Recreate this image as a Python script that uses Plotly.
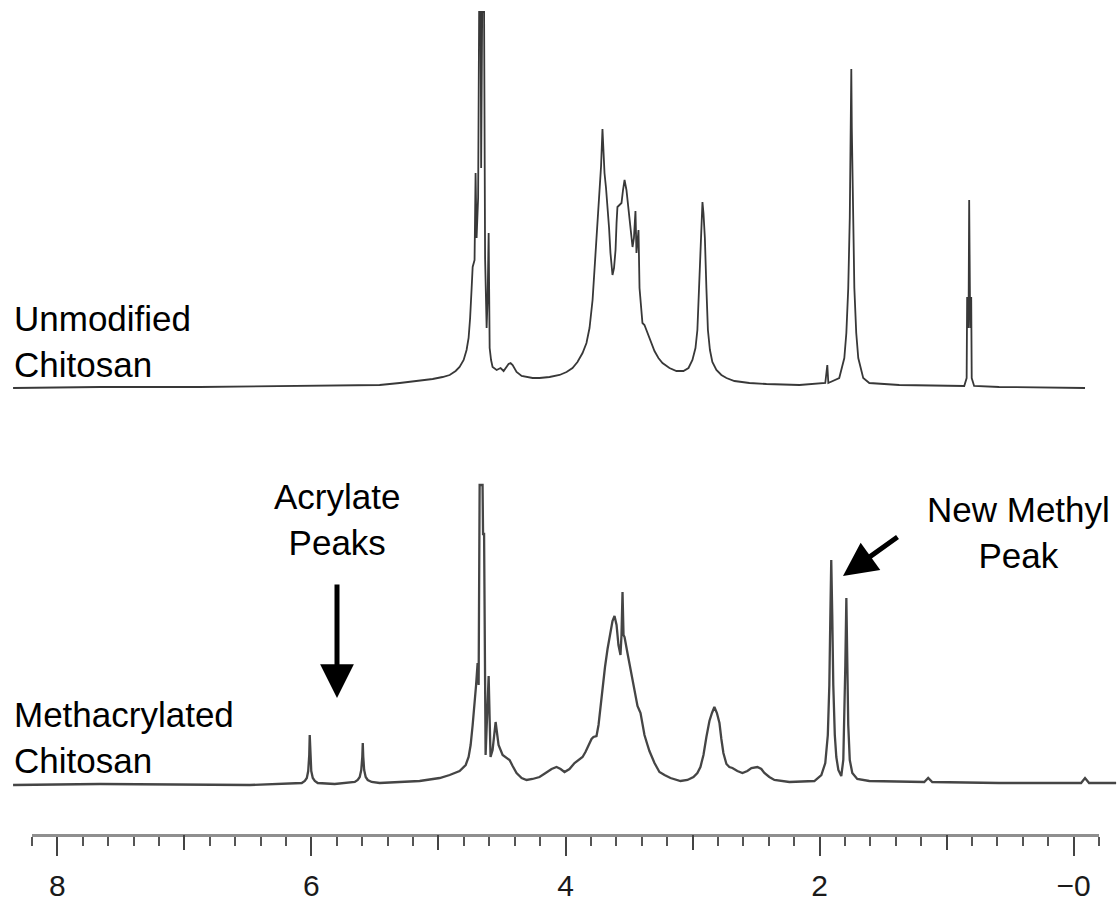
import plotly.graph_objects as go

# ---------------- data (chemical shift in ppm, intensity in arbitrary units) ----------------
unmod_ppm = [8.354, 7.669, 6.882, 6.094, 5.701, 5.465, 5.307, 5.150, 5.047, 4.969, 4.913, 4.866,
             4.835, 4.803, 4.780, 4.764, 4.752, 4.740, 4.732, 4.717, 4.709, 4.701, 4.689, 4.681,
             4.669, 4.665, 4.657, 4.642, 4.634, 4.622, 4.614, 4.606, 4.598, 4.587, 4.575, 4.543,
             4.512, 4.488, 4.465, 4.449, 4.433, 4.417, 4.386, 4.346, 4.260, 4.205, 4.126, 4.047,
             3.992, 3.945, 3.906, 3.866, 3.835, 3.811, 3.787, 3.768, 3.748, 3.732, 3.720, 3.709,
             3.701, 3.693, 3.681, 3.669, 3.657, 3.646, 3.630, 3.618, 3.606, 3.598, 3.591, 3.575,
             3.559, 3.547, 3.535, 3.520, 3.504, 3.488, 3.472, 3.461, 3.449, 3.441, 3.433, 3.425,
             3.417, 3.406, 3.394, 3.378, 3.354, 3.331, 3.299, 3.268, 3.236, 3.181, 3.126, 3.071,
             3.031, 3.000, 2.976, 2.961, 2.949, 2.937, 2.929, 2.921, 2.913, 2.902, 2.890, 2.878,
             2.862, 2.843, 2.811, 2.772, 2.732, 2.669, 2.551, 2.417, 2.157, 1.953, 1.937, 1.929,
             1.843, 1.803, 1.787, 1.772, 1.760, 1.752, 1.748, 1.744, 1.736, 1.724, 1.709, 1.693,
             1.654, 1.606, 1.370, 0.858, 0.839, 0.835, 0.827, 0.823, 0.819, 0.815, 0.811, 0.803,
             0.799, 0.780, 0.583, -0.094]
unmod_int = [0, 1, 1, 2, 2, 3, 5, 7, 9, 11, 13, 17,
             21, 28, 38, 50, 70, 100, 121, 128, 215, 150, 190, 376,
             376, 220, 376, 376, 130, 60, 90, 155, 40, 28, 21, 18,
             20, 17, 21, 24, 25, 23, 16, 12, 10, 10, 11, 13,
             16, 20, 26, 35, 45, 60, 88, 125, 171, 200, 222, 259,
             230, 215, 200, 181, 160, 135, 113, 120, 138, 165, 181, 183,
             185, 198, 208, 198, 181, 160, 141, 150, 177, 135, 145, 158,
             100, 80, 65, 63, 55, 46, 37, 30, 25, 20, 17, 17,
             20, 28, 40, 58, 100, 150, 175, 186, 175, 150, 100, 58,
             38, 26, 18, 13, 10, 7, 5, 4, 3, 5, 23, 5,
             10, 30, 55, 100, 170, 260, 319, 260, 170, 100, 55, 30,
             10, 5, 3, 2, 10, 91, 60, 91, 188, 91, 60, 91,
             10, 2, 1, 0]

meth_ppm = [8.354, 7.669, 6.488, 6.173, 6.079, 6.055, 6.039, 6.028, 6.020, 6.016, 6.012, 6.004,
            5.992, 5.976, 5.953, 5.819, 5.661, 5.638, 5.622, 5.610, 5.602, 5.598, 5.594, 5.587,
            5.575, 5.559, 5.528, 5.465, 5.307, 5.150, 4.992, 4.913, 4.835, 4.787, 4.764, 4.748,
            4.732, 4.717, 4.705, 4.693, 4.685, 4.677, 4.654, 4.650, 4.642, 4.630, 4.606, 4.591,
            4.575, 4.551, 4.528, 4.496, 4.465, 4.441, 4.417, 4.386, 4.346, 4.307, 4.260, 4.205,
            4.157, 4.110, 4.071, 4.039, 4.008, 3.969, 3.929, 3.890, 3.866, 3.843, 3.819, 3.795,
            3.780, 3.756, 3.740, 3.724, 3.709, 3.689, 3.669, 3.650, 3.630, 3.614, 3.598, 3.583,
            3.567, 3.559, 3.551, 3.543, 3.535, 3.512, 3.488, 3.457, 3.433, 3.409, 3.394, 3.378,
            3.354, 3.339, 3.299, 3.260, 3.220, 3.173, 3.094, 3.039, 2.992, 2.961, 2.937, 2.913,
            2.890, 2.866, 2.846, 2.827, 2.807, 2.787, 2.772, 2.756, 2.732, 2.709, 2.685, 2.646,
            2.606, 2.567, 2.535, 2.488, 2.457, 2.433, 2.394, 2.354, 2.236, 2.039, 1.984, 1.953,
            1.933, 1.921, 1.913, 1.906, 1.898, 1.890, 1.878, 1.866, 1.850, 1.827, 1.811, 1.803,
            1.795, 1.787, 1.780, 1.772, 1.760, 1.740, 1.701, 1.606, 1.173, 1.142, 1.110, 0.583,
            -0.063, -0.094, -0.126, -0.339]
meth_int = [0, 1, 0, 1, 2, 4, 7, 14, 30, 50, 30, 14,
            7, 4, 2, 1, 3, 5, 8, 15, 28, 42, 28, 15,
            8, 5, 3, 2, 3, 4, 7, 10, 14, 20, 28, 40,
            60, 80, 100, 122, 100, 300, 300, 251, 251, 30, 109, 28,
            35, 63, 40, 30, 27, 25, 19, 12, 7, 5, 6, 8,
            12, 16, 18, 16, 13, 16, 22, 26, 28, 33, 40, 46,
            48, 49, 60, 79, 98, 118, 136, 152, 164, 169, 160, 140,
            130, 150, 193, 150, 148, 132, 115, 92, 79, 72, 62, 50,
            40, 34, 22, 13, 10, 7, 4, 5, 8, 12, 18, 30,
            48, 64, 72, 78, 72, 62, 46, 32, 21, 18, 17, 14,
            12, 14, 17, 18, 16, 12, 8, 5, 3, 4, 10, 22,
            50, 100, 170, 225, 170, 100, 50, 28, 15, 9, 25, 60,
            120, 187, 120, 60, 25, 12, 6, 4, 3, 7, 3, 2,
            2, 7, 2, 2]

axis_range = [8.2001, -0.2001]
major_dtick = 2
minor_dtick = 0.2

spectrum_labels = ["Unmodified<br>Chitosan", "Methacrylated<br>Chitosan"]
note_acrylate = "Acrylate<br>Peaks"
note_methyl = "New Methyl<br>Peak"

# ---------------- figure ----------------
W, H = 1117, 901
FONT = "Arial, Liberation Sans, Helvetica, sans-serif"

fig = go.Figure()
fig.add_trace(go.Scatter(x=unmod_ppm, y=unmod_int, mode="lines", xaxis="x", yaxis="y",
                         line=dict(color="#383838", width=1.8), hoverinfo="skip", showlegend=False))
fig.add_trace(go.Scatter(x=meth_ppm, y=meth_int, mode="lines", xaxis="x", yaxis="y2",
                         line=dict(color="#454545", width=2.3), hoverinfo="skip", showlegend=False))
# invisible helpers so the ruler axes are drawn
fig.add_trace(go.Scatter(x=axis_range, y=[0, 0], mode="lines", xaxis="x2", yaxis="y3",
                         line=dict(width=0), opacity=0, hoverinfo="skip", showlegend=False))
fig.add_trace(go.Scatter(x=axis_range, y=[0, 0], mode="lines", xaxis="x3", yaxis="y3",
                         line=dict(width=0), opacity=0, hoverinfo="skip", showlegend=False))

y_line = 1 - 834 / H

fig.update_layout(
    width=W, height=H,
    margin=dict(l=0, r=0, t=0, b=0, pad=0, autoexpand=False),
    paper_bgcolor="white", plot_bgcolor="white",
    font=dict(family=FONT, color="black"),
    xaxis=dict(domain=[0, 1], range=[8.457, -0.346], visible=False, anchor="y", automargin=False),
    yaxis=dict(domain=[0, 1], range=[-513, 388], visible=False, automargin=False),
    yaxis2=dict(domain=[0, 1], range=[-116, 785], visible=False, overlaying="y", automargin=False),
    yaxis3=dict(domain=[y_line, y_line + 0.01], range=[0, 1], visible=False, anchor="x2",
                automargin=False),
    xaxis2=dict(domain=[32 / W, 1099 / W], range=axis_range, anchor="y3", side="bottom",
                automargin=False,
                showline=True, linecolor="#8f8f8f", linewidth=3,
                ticks="outside", tickmode="linear", tick0=0, dtick=major_dtick,
                ticklen=19, tickwidth=2, tickcolor="#444444",
                labelalias={"0": "−0"},
                tickfont=dict(size=30, color="#1a1a1a", family=FONT),
                ticklabelstandoff=4,
                minor=dict(ticks="outside", tickmode="linear", tick0=0, dtick=minor_dtick,
                           ticklen=9, tickwidth=2, tickcolor="#555555", showgrid=False),
                showgrid=False, zeroline=False),
    xaxis3=dict(range=axis_range, overlaying="x2", anchor="y3", side="bottom", automargin=False,
                showline=False, ticks="outside", tickmode="linear", tick0=1, dtick=major_dtick,
                ticklen=15, tickwidth=2, tickcolor="#444444", showticklabels=False,
                showgrid=False, zeroline=False),
)

def px_x(x):
    return x / W

def px_y(y):
    return 1 - y / H

text_font = dict(family=FONT, size=35, color="black")
fig.add_annotation(text=spectrum_labels[0], x=px_x(12), y=px_y(342), xref="paper", yref="paper",
                   xanchor="left", yanchor="middle", align="left", showarrow=False, font=text_font)
fig.add_annotation(text=spectrum_labels[1], x=px_x(12), y=px_y(737), xref="paper", yref="paper",
                   xanchor="left", yanchor="middle", align="left", showarrow=False, font=text_font)
fig.add_annotation(text=note_acrylate, x=px_x(337), y=px_y(519), xref="paper", yref="paper",
                   xanchor="center", yanchor="middle", align="center", showarrow=False, font=text_font)
fig.add_annotation(text=note_methyl, x=px_x(1018), y=px_y(532), xref="paper", yref="paper",
                   xanchor="center", yanchor="middle", align="center", showarrow=False, font=text_font)

# arrows
fig.add_annotation(text="", x=px_x(337), y=px_y(698), xref="paper", yref="paper",
                   ax=0, ay=-115, axref="pixel", ayref="pixel", showarrow=True,
                   arrowhead=2, arrowsize=1.35, arrowwidth=5, arrowcolor="black", standoff=0, startstandoff=0)
fig.add_annotation(text="", x=px_x(843), y=px_y(576), xref="paper", yref="paper",
                   ax=56, ay=-40, axref="pixel", ayref="pixel", showarrow=True,
                   arrowhead=2, arrowsize=1.35, arrowwidth=5, arrowcolor="black", standoff=0, startstandoff=0)

fig.write_html("out.html")
